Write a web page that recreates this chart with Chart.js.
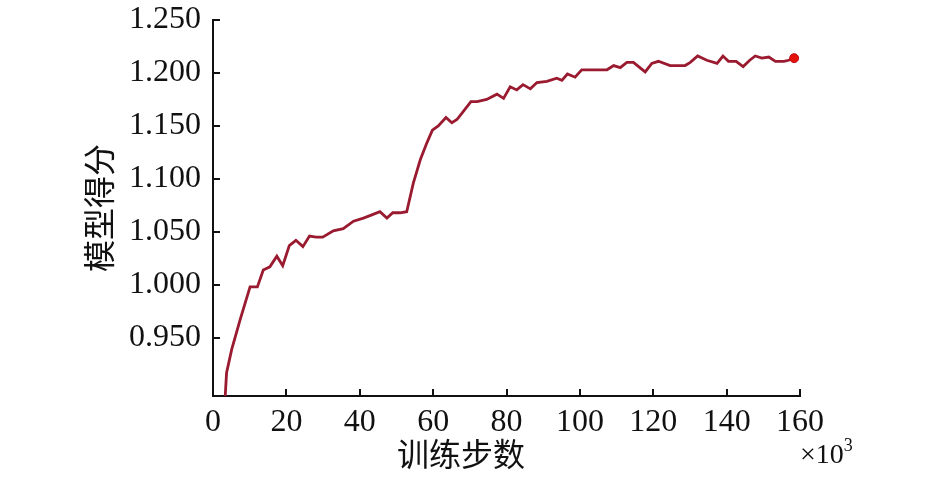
<!DOCTYPE html>
<html>
<head>
<meta charset="utf-8">
<script src="https://cdn.jsdelivr.net/npm/chart.js@4/dist/chart.umd.min.js"></script>
<style>
	html, body { margin: 0; padding: 0; background: #fff; }
	#wrap { width: 945px; height: 481px; }
</style>
</head>
<body>
<div id="wrap"><canvas id="chart" width="945" height="481"></canvas></div>
<script>
// training steps (x10^3) and model score
var steps = [3.3, 3.7, 5.1, 7.4, 10.1, 12.1, 13.7, 15.5, 17.4, 19.0,
	20.8, 22.6, 24.5, 26.3, 28.1, 29.9, 32.8, 35.5, 38.3, 41.0,
	43.3, 45.5, 47.4, 49.0, 51.0, 52.8, 54.6, 56.5, 58.3, 59.8,
	61.4, 63.5, 65.1, 66.5, 68.3, 70.3, 72.0, 74.6, 77.4, 79.2,
	81.0, 82.8, 84.5, 86.5, 88.3, 91.0, 93.7, 95.1, 96.6, 98.7,
	100.5, 103.7, 107.4, 109.2, 111.0, 112.8, 114.6, 117.8, 119.6, 121.4,
	124.6, 128.7, 130.1, 132.1, 134.6, 137.4, 139.0, 140.5, 142.6, 144.5,
	146.3, 147.8, 149.6, 151.5, 153.3, 155.6, 156.9, 158.4];
var scores = [0.893, 0.917, 0.939, 0.967, 0.998, 0.998, 1.014, 1.017, 1.027, 1.018,
	1.037, 1.042, 1.036, 1.046, 1.045, 1.045, 1.051, 1.053, 1.060, 1.063,
	1.066, 1.069, 1.063, 1.068, 1.068, 1.069, 1.096, 1.118, 1.134, 1.146,
	1.150, 1.158, 1.153, 1.156, 1.164, 1.173, 1.173, 1.175, 1.180, 1.176,
	1.187, 1.184, 1.189, 1.185, 1.191, 1.192, 1.195, 1.193, 1.199, 1.196,
	1.203, 1.203, 1.203, 1.207, 1.205, 1.210, 1.210, 1.201, 1.209, 1.211,
	1.207, 1.207, 1.210, 1.216, 1.212, 1.209, 1.216, 1.211, 1.211, 1.206,
	1.212, 1.216, 1.214, 1.215, 1.211, 1.211, 1.212, 1.214];
var xTicks = [0, 20, 40, 60, 80, 100, 120, 140, 160];
var yTicks = [0.950, 1.000, 1.050, 1.100, 1.150, 1.200, 1.250];
var xTitle = '训练步数';
var yTitle = '模型得分';
var xUnit = '×10';

var serif = '"Liberation Serif", "Times New Roman", serif';
var cjk = '"Noto Sans CJK SC", "Noto Sans", sans-serif';

var points = steps.map(function(s, i){ return {x: s, y: scores[i]}; });
var last = points.length - 1;

// inward tick marks and the axis titles
var overlay = {
	id: 'overlay',
	afterDraw: function(chart){
		var ctx = chart.ctx, a = chart.chartArea;
		var xs = chart.scales.x, ys = chart.scales.y;
		ctx.save();
		ctx.strokeStyle = '#111';
		ctx.lineWidth = 2;
		ctx.beginPath();
		xs.ticks.forEach(function(t){
			if(t.value === 0) return;
			var px = Math.round(xs.getPixelForValue(t.value));
			ctx.moveTo(px, a.bottom);
			ctx.lineTo(px, a.bottom - 7);
		});
		ys.ticks.forEach(function(t){
			var py = Math.round(ys.getPixelForValue(t.value));
			ctx.moveTo(a.left, py);
			ctx.lineTo(a.left + 7, py);
		});
		ctx.stroke();

		ctx.fillStyle = '#111';
		ctx.textAlign = 'center';
		ctx.textBaseline = 'middle';
		ctx.font = '32px ' + cjk;
		ctx.fillText(xTitle, a.left + 248, a.bottom + 58);

		ctx.save();
		ctx.translate(a.left - 114, (a.top + a.bottom) / 2);
		ctx.rotate(-Math.PI / 2);
		ctx.fillText(yTitle, 0, 0);
		ctx.restore();

		ctx.textAlign = 'left';
		ctx.textBaseline = 'alphabetic';
		ctx.font = '28px ' + serif;
		ctx.fillText(xUnit, a.right, a.bottom + 67);
		var w = ctx.measureText(xUnit).width;
		ctx.font = '18px ' + serif;
		ctx.fillText('3', a.right + w, a.bottom + 55);
		ctx.restore();
	}
};

new Chart(document.getElementById('chart'), {
	type: 'line',
	data: {
		datasets: [{
			data: points,
			borderColor: '#9a1a30',
			borderWidth: 2.8,
			tension: 0,
			pointRadius: points.map(function(p, i){ return i === last ? 4.5 : 0; }),
			pointBackgroundColor: '#e3120b',
			pointBorderColor: '#c0101a',
			pointBorderWidth: 1
		}]
	},
	options: {
		responsive: false,
		animation: false,
		layout: { padding: { top: 20, right: 145, left: 0, bottom: 0 } },
		plugins: { legend: { display: false }, tooltip: { enabled: false } },
		scales: {
			x: {
				type: 'linear',
				min: 0,
				max: 160,
				afterBuildTicks: function(s){ s.ticks = xTicks.map(function(v){ return {value: v}; }); },
				afterFit: function(s){ s.height = 85; s.paddingLeft = 0; s.paddingRight = 0; },
				grid: { drawOnChartArea: false, drawTicks: false },
				border: { color: '#111', width: 2 },
				ticks: {
					color: '#111',
					padding: 7,
					maxRotation: 0,
					font: { family: serif, size: 32 },
					callback: function(v){ return v; }
				}
			},
			y: {
				type: 'linear',
				min: 0.895,
				max: 1.25,
				afterBuildTicks: function(s){ s.ticks = yTicks.map(function(v){ return {value: v}; }); },
				afterFit: function(s){ s.width = 213; s.paddingTop = 0; s.paddingBottom = 0; },
				grid: { drawOnChartArea: false, drawTicks: false },
				border: { color: '#111', width: 2 },
				ticks: {
					color: '#111',
					padding: 12,
					font: { family: serif, size: 32 },
					callback: function(v){ return Number(v).toFixed(3); }
				}
			}
		}
	},
	plugins: [overlay]
});
</script>
</body>
</html>
